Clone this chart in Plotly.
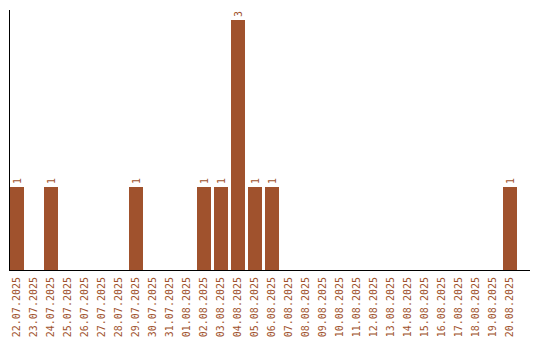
import plotly.graph_objects as go

dates = ["22.07.2025", "23.07.2025", "24.07.2025", "25.07.2025", "26.07.2025",
         "27.07.2025", "28.07.2025", "29.07.2025", "30.07.2025", "31.07.2025",
         "01.08.2025", "02.08.2025", "03.08.2025", "04.08.2025", "05.08.2025",
         "06.08.2025", "07.08.2025", "08.08.2025", "09.08.2025", "10.08.2025",
         "11.08.2025", "12.08.2025", "13.08.2025", "14.08.2025", "15.08.2025",
         "16.08.2025", "17.08.2025", "18.08.2025", "19.08.2025", "20.08.2025"]
counts = [1, 0, 1, 0, 0, 0, 0, 1, 0, 0,
          0, 1, 1, 3, 1, 1, 0, 0, 0, 0,
          0, 0, 0, 0, 0, 0, 0, 0, 0, 1]

color = "#A0522D"
font_family = "DejaVu Sans Mono"
labels = [str(v) if v > 0 else "" for v in counts]

fig = go.Figure(go.Bar(
    x=list(range(len(dates))), y=counts, width=0.82,
    marker=dict(color=color, line=dict(width=0)),
    text=labels, textposition="outside", textangle=-90,
    textfont=dict(family=font_family, size=10, color=color),
    cliponaxis=False,
))

fig.update_layout(
    width=540, height=340,
    margin=dict(l=10, r=10, t=10, b=70, autoexpand=False),
    paper_bgcolor="white", plot_bgcolor="white",
    showlegend=False, bargap=0,
    uniformtext=dict(minsize=10, mode="show"),
)
fig.update_xaxes(
    range=[-0.41, 30.18], tickmode="array",
    tickvals=list(range(len(dates))), ticktext=dates,
    tickangle=-90, tickfont=dict(family=font_family, size=10, color=color),
    showline=True, linecolor="black", linewidth=1, showgrid=False,
    ticks="", zeroline=False, automargin=False, ticklabelstandoff=2,
)
fig.update_yaxes(
    range=[0, 3.12], showticklabels=False, showline=True,
    linecolor="black", linewidth=1, showgrid=False, ticks="", zeroline=False,
    automargin=False,
)

fig.write_html("out.html")
